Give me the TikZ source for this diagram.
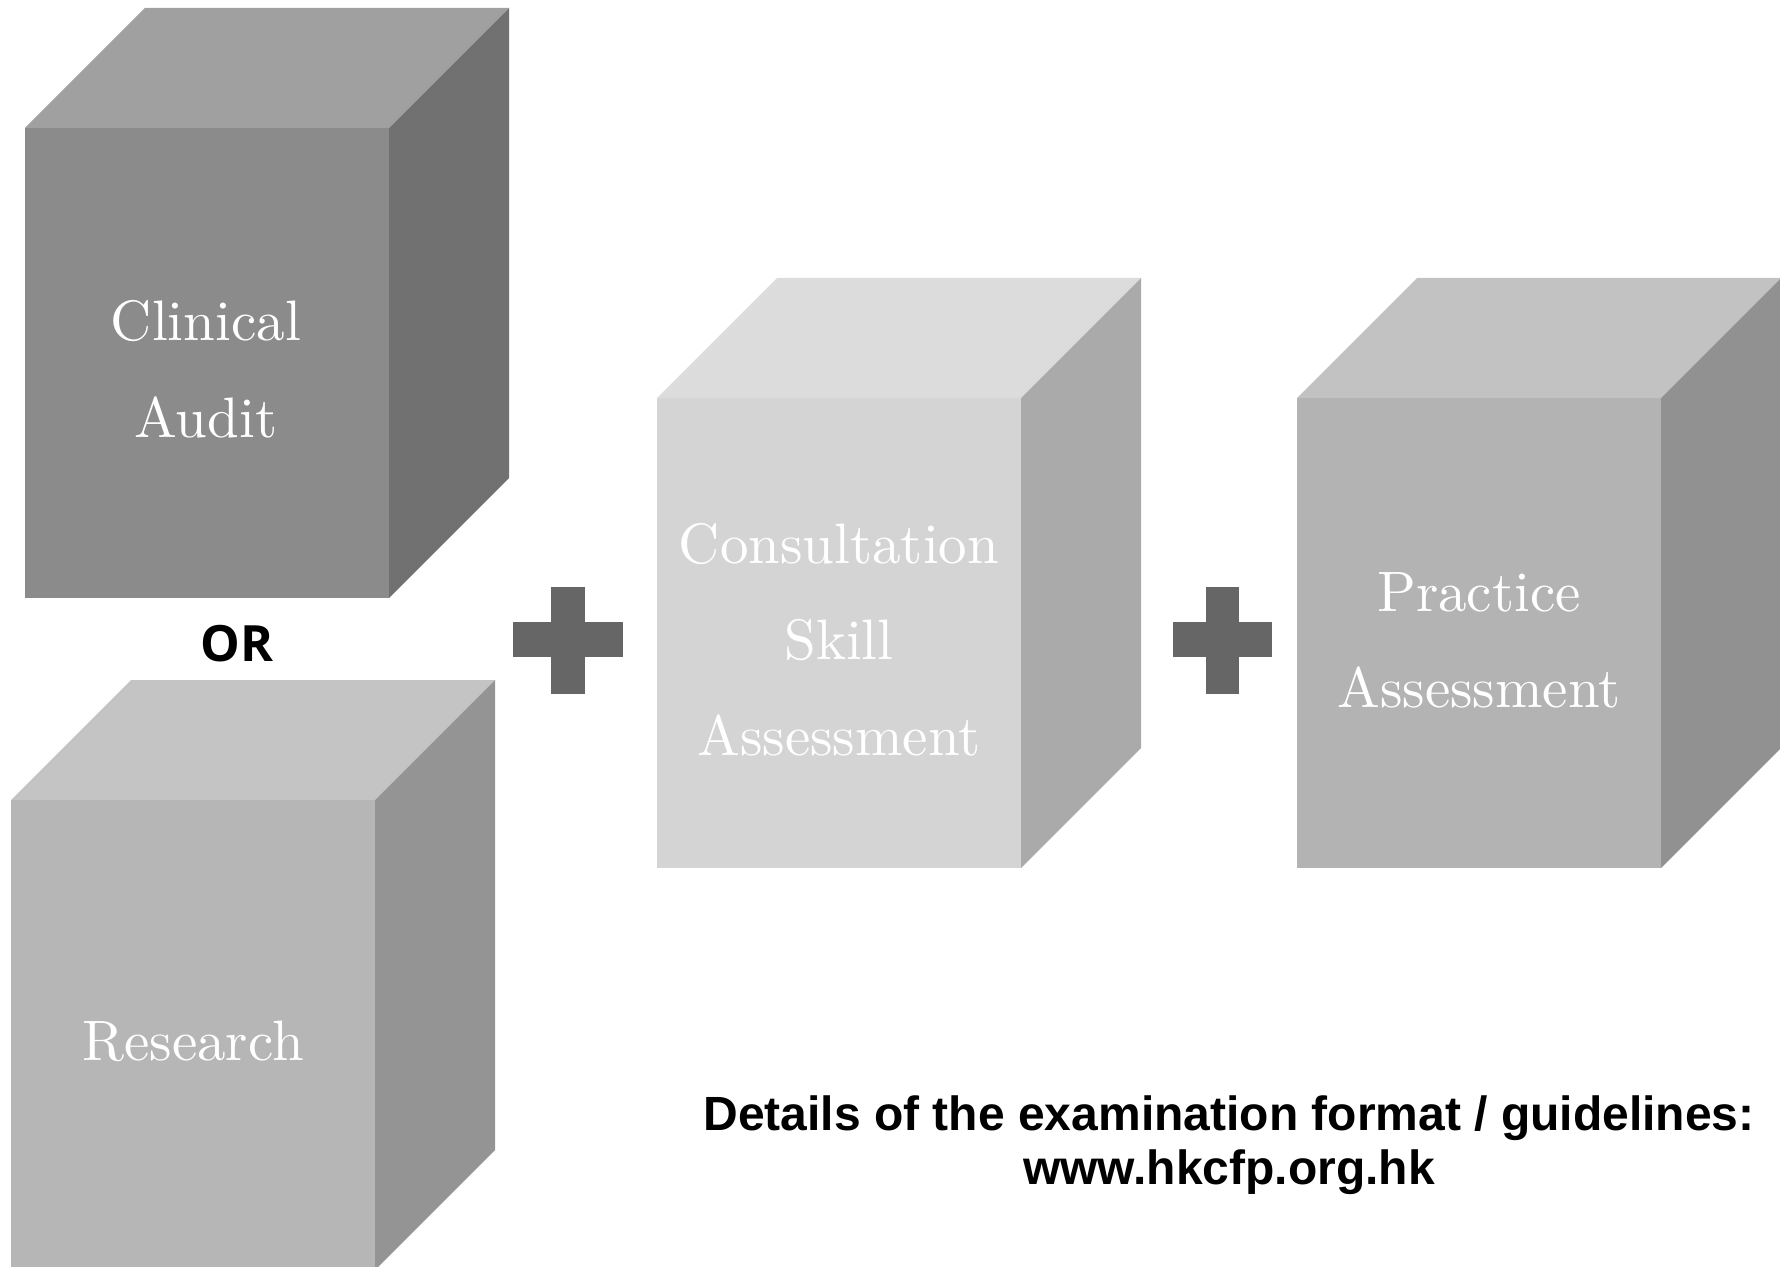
\documentclass[tikz,border=0pt]{standalone}
\usepackage{fontspec}
\newfontfamily\cubefont{lmroman10-regular.otf}
\newfontfamily\orfont{Open Sans}
\newfontfamily\notefont{Liberation Sans}

\definecolor{auditTop}{HTML}{A0A0A0}
\definecolor{auditFront}{HTML}{8B8B8B}
\definecolor{auditSide}{HTML}{717171}
\definecolor{researchTop}{HTML}{C4C4C4}
\definecolor{researchFront}{HTML}{B6B6B6}
\definecolor{researchSide}{HTML}{949494}
\definecolor{consultTop}{HTML}{DCDCDC}
\definecolor{consultFront}{HTML}{D4D4D4}
\definecolor{consultSide}{HTML}{AAAAAA}
\definecolor{practiceTop}{HTML}{C2C2C2}
\definecolor{practiceFront}{HTML}{B3B3B3}
\definecolor{practiceSide}{HTML}{919191}
\definecolor{plusGrey}{HTML}{666666}

\tikzset{
  cubelabel/.style={anchor=base, text=white, inner sep=0pt,
    font=\cubefont\fontsize{28.5}{48}\selectfont},
  plusbar/.style={fill=plusGrey},
}

% #1,#2 = lower left corner of the front face, #3 top, #4 front, #5 side
\newcommand{\examcube}[5]{
  \begin{scope}[shift={(#1,#2)}]
    \fill[#4] (0,0) rectangle (364,470);
    \fill[#3] (0,470) -- (120,590) -- (484,590) -- (364,470) -- cycle;
    \fill[#5] (364,0) -- (364,470) -- (484,590) -- (484,120) -- cycle;
  \end{scope}
}

\begin{document}
\begin{tikzpicture}[x=0.5pt,y=0.5pt]
\useasboundingbox (0,0) rectangle (1780,1266);
\clip (0,0) rectangle (1780,1266);

% the four cubes
\examcube{25}{668}{auditTop}{auditFront}{auditSide}
\examcube{11}{-4}{researchTop}{researchFront}{researchSide}
\examcube{657}{398}{consultTop}{consultFront}{consultSide}
\examcube{1297}{398}{practiceTop}{practiceFront}{practiceSide}

\node[cubelabel] (audit1) at (206,925) {Clinical};
\node[cubelabel] (audit2) at (206,829) {Audit};
\node[cubelabel] (research) at (193,206) {Research};
\node[cubelabel] (consult1) at (839,703) {Consultation};
\node[cubelabel] (consult2) at (839,607) {Skill};
\node[cubelabel] (consult3) at (839,511) {Assessment};
\node[cubelabel] (practice1) at (1479,655) {Practice};
\node[cubelabel] (practice2) at (1479,559) {Assessment};

% or
\node[anchor=base, inner sep=0pt, font=\orfont\bfseries\fontsize{25}{30}\selectfont]
  (or) at (237,605) {OR};

% plus signs
\fill[plusbar] (513,609) rectangle (623,644);
\fill[plusbar] (551,572) rectangle (585,679);
\fill[plusbar] (1173,609) rectangle (1272,644);
\fill[plusbar] (1206,572) rectangle (1239,679);

% note
\node[anchor=base, inner sep=0pt, font=\notefont\bfseries\fontsize{24}{27}\selectfont]
  (details) at (1229,136) {Details of the examination format / guidelines:};
\node[anchor=base, inner sep=0pt, font=\notefont\bfseries\fontsize{24}{27}\selectfont]
  (website) at (1229,82) {www.hkcfp.org.hk};

\end{tikzpicture}
\end{document}
